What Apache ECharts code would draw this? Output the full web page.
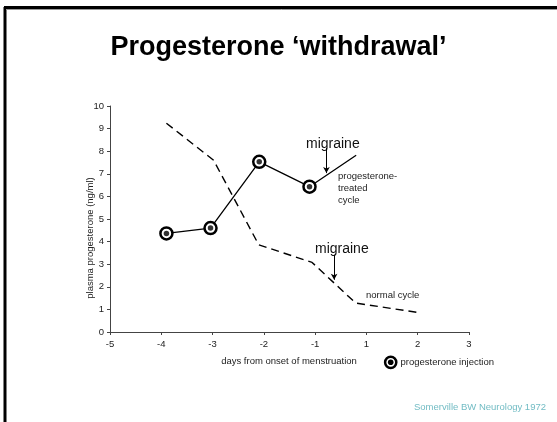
<!DOCTYPE html>
<html>
<head>
<meta charset="utf-8">
<script src="https://cdn.jsdelivr.net/npm/echarts@6/dist/echarts.min.js"></script>
<style>html,body{margin:0;padding:0;background:#fff;}#c{width:557px;height:422px;}</style>
</head>
<body>
<div id="c"></div>
<script>
// x positions are axis slots: 0..7 map to the tick labels below (no day 0 on the original axis)
var xTickLabels = ['-5', '-4', '-3', '-2', '-1', '1', '2', '3'];
var treatedX = [1.10, 1.96, 2.91, 3.89, 4.80];
var treatedY = [4.36, 4.60, 7.53, 6.43, 7.82];
var injectionCount = 4; // first four treated points are injections
var normalX = [1.10, 2.02, 2.90, 3.94, 4.79, 5.99];
var normalY = [9.24, 7.60, 3.86, 3.08, 1.28, 0.87];
var migraineTreatedArrow = [[4.22, 8.14], [4.22, 7.03]];
var migraineNormalArrow = [[4.37, 3.42], [4.37, 2.31]];

var FONT = 'Liberation Sans, Arial, sans-serif';
function zip(xs, ys) { return xs.map(function (x, i) { return [x, ys[i]]; }); }
var treated = zip(treatedX, treatedY);
var normal = zip(normalX, normalY);
var injections = treated.slice(0, injectionCount);

var chart = echarts.init(document.getElementById('c'), null, {renderer: 'canvas'});
chart.setOption({
  animation: false,
  backgroundColor: '#fff',
  grid: {left: 110, top: 106, width: 359, height: 226, containLabel: false},
  xAxis: {
    type: 'value', min: 0, max: 7, interval: 1,
    axisLine: {lineStyle: {color: '#444', width: 1}},
    axisTick: {length: 3, lineStyle: {color: '#444'}},
    splitLine: {show: false},
    axisLabel: {color: '#222', fontFamily: FONT, fontSize: 9.5, margin: 7,
      formatter: function (v) { return xTickLabels[Math.round(v)]; }}
  },
  yAxis: {
    type: 'value', min: 0, max: 10, interval: 1,
    axisLine: {show: true, lineStyle: {color: '#444', width: 1}},
    axisTick: {show: true, length: 3, lineStyle: {color: '#444'}},
    splitLine: {show: false},
    axisLabel: {color: '#222', fontFamily: FONT, fontSize: 9.5, margin: 6}
  },
  series: [
    {type: 'line', data: normal, symbol: 'none', lineStyle: {color: '#000', width: 1.4, type: [8, 5]}, z: 2},
    {type: 'line', data: treated, symbol: 'none', lineStyle: {color: '#000', width: 1.3}, z: 3,
      markLine: {silent: true, symbol: ['none', 'arrow'], symbolSize: [5, 6], label: {show: false},
        lineStyle: {color: '#000', width: 1, type: 'solid'},
        data: [
          [{coord: migraineTreatedArrow[0]}, {coord: migraineTreatedArrow[1]}],
          [{coord: migraineNormalArrow[0]}, {coord: migraineNormalArrow[1]}]
        ]}},
    {type: 'scatter', data: injections, symbol: 'circle', symbolSize: 12,
      itemStyle: {color: '#fff', borderColor: '#000', borderWidth: 2.5, opacity: 1}, z: 4},
    {type: 'scatter', data: injections, symbol: 'circle', symbolSize: 5.5,
      itemStyle: {color: '#000'}, z: 5}
  ],
  graphic: [
    {type: 'line', shape: {x1: 5, y1: 7, x2: 5, y2: 422}, style: {stroke: '#000', lineWidth: 3}},
    {type: 'line', shape: {x1: 4, y1: 7.5, x2: 557, y2: 7.5}, style: {stroke: '#000', lineWidth: 3}},
    {type: 'line', shape: {x1: 6, y1: 9.5, x2: 557, y2: 9.5}, style: {stroke: '#999', lineWidth: 1}},
    {type: 'text', left: 'center', top: 34, style: {text: 'Progesterone \u2018withdrawal\u2019', font: 'bold 27px ' + FONT, fill: '#000'}},
    {type: 'text', x: 90, y: 238, rotation: Math.PI / 2, style: {text: 'plasma progesterone (ng/ml)', font: '9.5px ' + FONT, fill: '#222', align: 'center', verticalAlign: 'middle'}},
    {type: 'text', x: 289, y: 361, style: {text: 'days from onset of menstruation', font: '9.5px ' + FONT, fill: '#222', align: 'center', verticalAlign: 'middle'}},
    {type: 'circle', shape: {cx: 390.7, cy: 362.3, r: 5.6}, style: {fill: '#fff', stroke: '#000', lineWidth: 2.5}},
    {type: 'circle', shape: {cx: 390.7, cy: 362.3, r: 2.8}, style: {fill: '#000'}},
    {type: 'text', x: 400.5, y: 362, style: {text: 'progesterone injection', font: '9.5px ' + FONT, fill: '#222', verticalAlign: 'middle'}},
    {type: 'text', x: 306, y: 144, style: {text: 'migraine', font: '14px ' + FONT, fill: '#111', verticalAlign: 'middle'}},
    {type: 'text', x: 315, y: 249, style: {text: 'migraine', font: '14px ' + FONT, fill: '#111', verticalAlign: 'middle'}},
    {type: 'text', x: 338, y: 176, style: {text: 'progesterone-', font: '9.5px ' + FONT, fill: '#222', verticalAlign: 'middle'}},
    {type: 'text', x: 338, y: 188, style: {text: 'treated', font: '9.5px ' + FONT, fill: '#222', verticalAlign: 'middle'}},
    {type: 'text', x: 338, y: 200, style: {text: 'cycle', font: '9.5px ' + FONT, fill: '#222', verticalAlign: 'middle'}},
    {type: 'text', x: 366, y: 295, style: {text: 'normal cycle', font: '9.5px ' + FONT, fill: '#222', verticalAlign: 'middle'}},
    {type: 'text', x: 546, y: 407, style: {text: 'Somerville BW Neurology 1972', font: '9.5px ' + FONT, fill: '#72bcc4', align: 'right', verticalAlign: 'middle'}}
  ]
});
</script>
</body>
</html>
